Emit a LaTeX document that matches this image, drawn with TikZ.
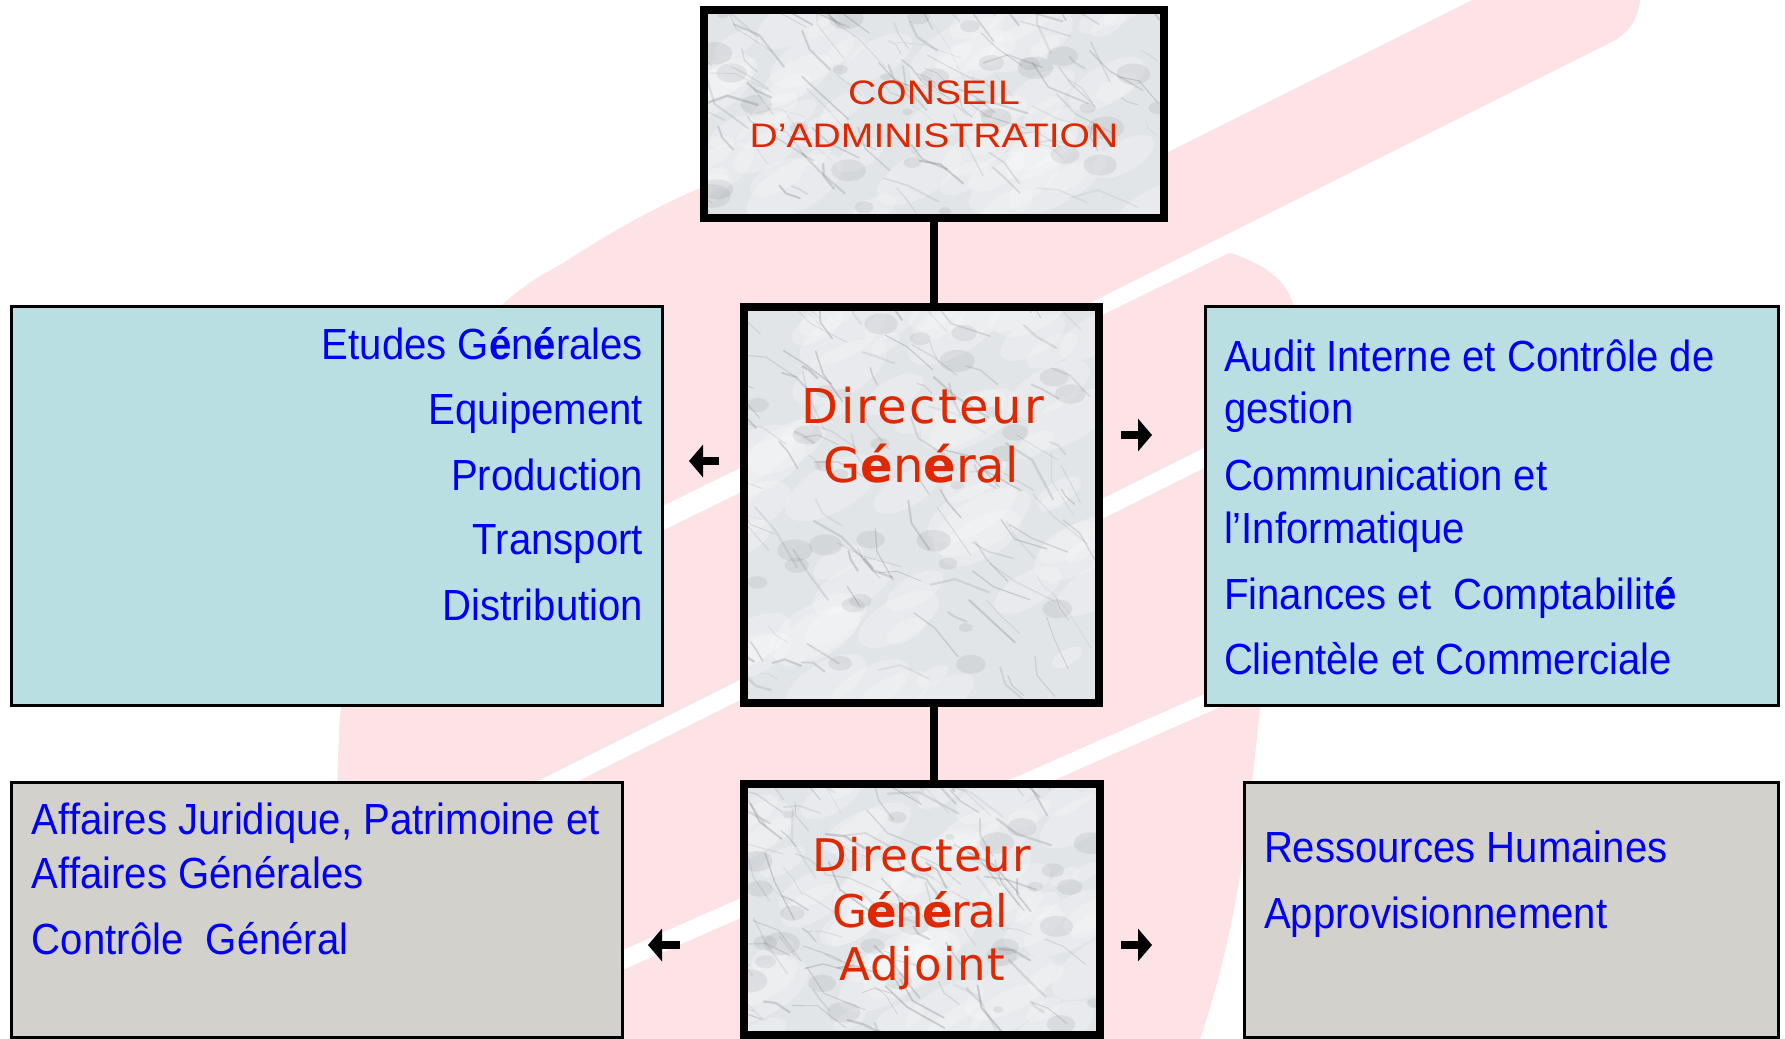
\documentclass[tikz,border=0pt]{standalone}
\usepackage{fontspec}
\setmainfont[FakeStretch=0.92]{Liberation Sans}
\newfontfamily\dejavu{DejaVu Sans}
\newfontfamily\dejavuA[LetterSpace=5]{DejaVu Sans}
\newfontfamily\dejavuB[LetterSpace=2.4]{DejaVu Sans}
\newfontfamily\dejavuC[LetterSpace=-3]{DejaVu Sans}
\newfontfamily\dejavuD[LetterSpace=3]{DejaVu Sans}
\newfontfamily\conseilfont[FakeStretch=1.15]{Liberation Sans}
\usetikzlibrary{arrows.meta,calc}
\definecolor{wmpink}{RGB}{253,227,230}
\definecolor{boxcyan}{RGB}{185,223,226}
\definecolor{boxgray}{RGB}{210,209,204}
\definecolor{txtblue}{RGB}{0,0,248}
\definecolor{txtred}{RGB}{222,40,0}
\definecolor{marblebase}{RGB}{226,229,232}
\definecolor{veingray}{RGB}{110,114,120}
\newcommand{\marbletex}[5]{%
  \begin{scope}
    \clip (#1,#2) rectangle (#3,#4);
    \fill[marblebase] (#1,#2) rectangle (#3,#4);
    \pgfmathsetseed{#5}
    \foreach \k in {1,...,60}{
      \pgfmathsetmacro\xa{#1+rnd*(#3-#1)}
      \pgfmathsetmacro\ya{#2+rnd*(#4-#2)}
      \pgfmathsetmacro\ra{15+rnd*40}
      \fill[white, opacity=0.22, rotate around={30:(\xa,\ya)}] (\xa,\ya) ellipse [x radius=\ra, y radius=\ra*0.45];
    }
    \foreach \k in {1,...,110}{
      \pgfmathsetmacro\xa{#1+rnd*(#3-#1)}
      \pgfmathsetmacro\ya{#2+rnd*(#4-#2)}
      \pgfmathsetmacro\lena{10+rnd*35}
      \pgfmathsetmacro\anga{195+rnd*50}
      \pgfmathsetmacro\angb{\anga-40+rnd*80}
      \pgfmathsetmacro\opa{0.08+0.22*rnd}
      \pgfmathsetmacro\lwa{0.3+0.9*rnd}
      \draw[veingray, opacity=\opa, line width=\lwa pt, line cap=round, line join=round]
        (\xa,\ya) -- ++(\anga:\lena) -- ++(\angb:\lena*0.7);
    }
    \foreach \k in {1,...,30}{
      \pgfmathsetmacro\xa{#1+rnd*(#3-#1)}
      \pgfmathsetmacro\ya{#2+rnd*(#4-#2)}
      \pgfmathsetmacro\ra{3+rnd*9}
      \fill[veingray, opacity=0.12] (\xa,\ya) ellipse [x radius=\ra*1.6, y radius=\ra];
    }
  \end{scope}}
\tikzset{
  marblebox/.style={draw=black, line width=4pt, inner sep=0pt, outer sep=0pt, rectangle},
  infobox/.style={draw=black, line width=1.5pt, inner sep=0pt, outer sep=0pt, rectangle},
  bluetxt/.style={text=txtblue, font=\fontsize{21.8}{26}\selectfont, inner sep=0pt, outer sep=0pt},
  redmid/.style={text=txtred, inner sep=0pt, anchor=base},
  redtop/.style={text=txtred, font=\conseilfont\fontsize{17}{20}\selectfont, inner sep=0pt, anchor=base},
  link/.style={line width=4pt, black},
  blockarrow/.style={line width=4pt, black, -{Triangle[length=7pt,width=16pt]}},
  wmstripe/.style={white, line width=9pt}
}
\begin{document}
\begin{tikzpicture}[x=0.5pt,y=-0.5pt]
\useasboundingbox (0,0) rectangle (1785,1039);
\fill[white] (0,0) rectangle (1785,1039);
% watermark
\begin{scope}
  \clip (0,0) rectangle (1785,1039);
  \fill[wmpink] (330,1039) -- (338,760)
     .. controls (345,520) and (430,330) .. (560,265)
     .. controls (660,200) and (760,150) .. (880,150)
     .. controls (1000,150) and (1100,200) .. (1200,245)
     .. controls (1260,258) and (1300,280) .. (1295,330)
     .. controls (1280,500) and (1262,700) .. (1250,800)
     .. controls (1240,900) and (1220,980) .. (1200,1039) -- cycle;
  \draw[wmstripe, line width=11pt] (300,696) -- (1420,147);
  \draw[wmpink, line width=50pt, line cap=round] (1590,-3) -- (900,342);
  \draw[wmstripe] (300,910) -- (1400,360);
  \draw[wmstripe] (500,1014) -- (1400,618);
\end{scope}
% marble textures
\marbletex{704}{10}{1164}{218}{11}
\marbletex{744}{307}{1099}{703}{23}
\marbletex{744}{784}{1100}{1039}{37}
% boxes
\node[marblebox, minimum width=230pt, minimum height=104pt] (ca) at (934,114) {};
\node[marblebox, minimum width=177.5pt, minimum height=198pt] (dg) at (921.5,505) {};
\node[marblebox, minimum width=178pt, minimum height=125.5pt] (dga) at (922,909.5) {};
\node[infobox, fill=boxcyan, minimum width=325.5pt, minimum height=199.5pt] (lbox) at (337,506) {};
\node[infobox, fill=boxcyan, minimum width=286.5pt, minimum height=199.5pt] (rbox) at (1492,506) {};
\node[infobox, fill=boxgray, minimum width=305.5pt, minimum height=127.5pt] (lgbox) at (317,910) {};
\node[infobox, fill=boxgray, minimum width=267pt, minimum height=127.5pt] (rgbox) at (1511.5,910) {};
% connectors
\draw[link] (ca.south) -- (ca.south |- dg.north);
\draw[link] (ca.south |- dg.south) -- (ca.south |- dga.north);
% arrows
\coordinate (a1s) at (719,461); \coordinate (a1e) at (689,461);
\coordinate (a2s) at (1121,435); \coordinate (a2e) at (1152,435);
\coordinate (a3s) at (680,945); \coordinate (a3e) at (648,945);
\coordinate (a4s) at (1121,945); \coordinate (a4e) at (1152,945);
\draw[blockarrow] (a1s) -- (a1e);
\draw[blockarrow] (a2s) -- (a2e);
\draw[blockarrow] (a3s) -- (a3e);
\draw[blockarrow] (a4s) -- (a4e);
% red titles
\node[redtop] (ca1) at (934,104) {CONSEIL};
\node[redtop] (ca2) at (934,147) {D’ADMINISTRATION};
\node[redmid, font=\dejavuA\fontsize{24}{28}\selectfont] (dg1) at (923,423) {Directeur};
\node[redmid, font=\dejavu\fontsize{24}{28}\selectfont] (dg2) at (921,482) {G\textbf{é}n\textbf{é}ral};
\node[redmid, font=\dejavuB\fontsize{22.5}{26}\selectfont] (dga1) at (922,871) {Directeur};
\node[redmid, font=\dejavuC\fontsize{22.5}{26}\selectfont] (dga2) at (920,927) {G\textbf{é}n\textbf{é}ral};
\node[redmid, font=\dejavuD\fontsize{22.5}{26}\selectfont] (dga3) at (922,980) {Adjoint};
% left cyan
\node[bluetxt, anchor=base east] (l1) at (643,359) {Etudes G\textbf{é}n\textbf{é}rales};
\node[bluetxt, anchor=base east] (l2) at (643,424) {Equipement};
\node[bluetxt, anchor=base east] (l3) at (643,490) {Production};
\node[bluetxt, anchor=base east] (l4) at (643,554) {Transport};
\node[bluetxt, anchor=base east] (l5) at (643,620) {Distribution};
% right cyan
\node[bluetxt, anchor=base west] (r1) at (1224,371) {Audit Interne et Contrôle de};
\node[bluetxt, anchor=base west] (r2) at (1224,423) {gestion};
\node[bluetxt, anchor=base west] (r3) at (1224,490) {Communication et};
\node[bluetxt, anchor=base west] (r4) at (1224,543) {l’Informatique};
\node[bluetxt, anchor=base west] (r5) at (1224,609) {Finances et\ \ Comptabilit\textbf{é}};
\node[bluetxt, anchor=base west] (r6) at (1224,674) {Clientèle et Commerciale};
% bottom left gray
\node[bluetxt, anchor=base west] (g1) at (32,834) {Affaires Juridique, Patrimoine et};
\node[bluetxt, anchor=base west] (g2) at (32,888) {Affaires Générales};
\node[bluetxt, anchor=base west] (g3) at (32,954) {Contrôle\ \ Général};
% bottom right gray
\node[bluetxt, anchor=base west] (h1) at (1264,862) {Ressources Humaines};
\node[bluetxt, anchor=base west] (h2) at (1264,928) {Approvisionnement};
\end{tikzpicture}
\end{document}
